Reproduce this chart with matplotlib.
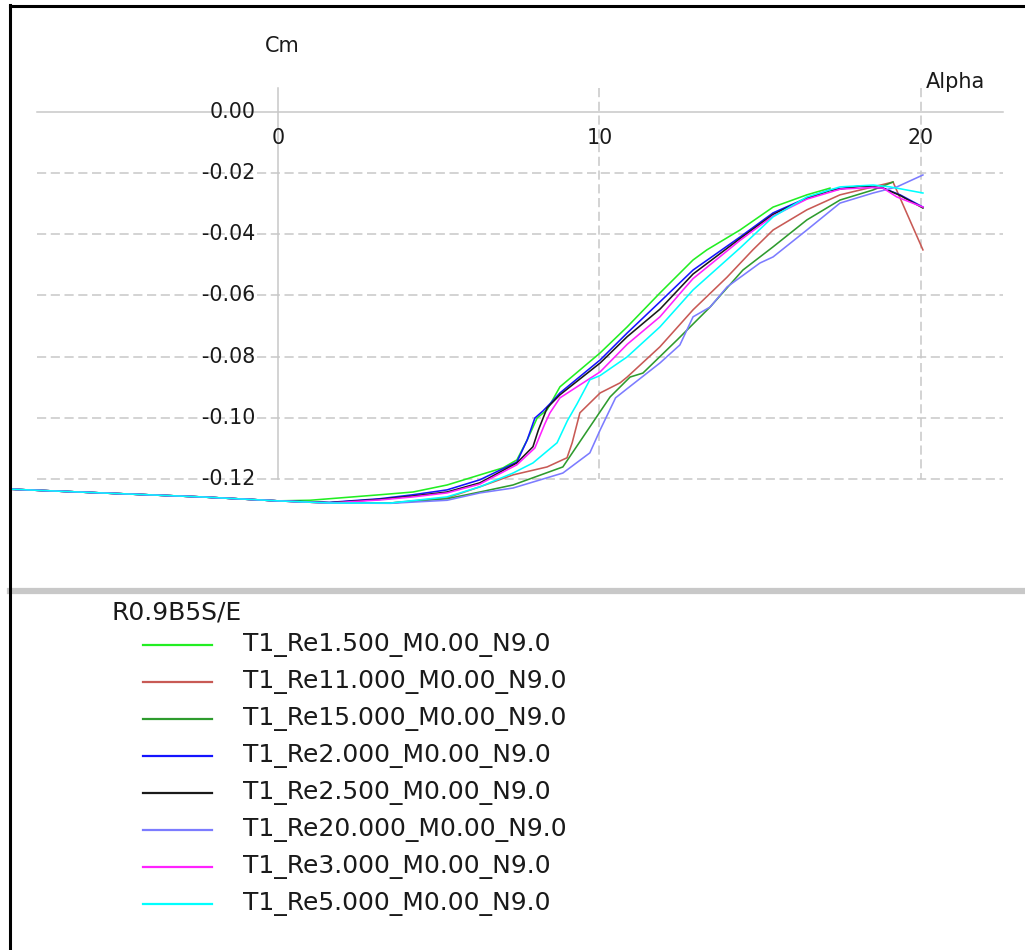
import matplotlib
matplotlib.use("Agg")
import matplotlib.pyplot as plt
from matplotlib.lines import Line2D

plt.rcParams['font.family'] = ['DejaVu Sans']

# polar data: alpha (deg) / Cm
re1500_alpha = [-8.5, -5.5, -2.4, 0.0, 1.0, 3.17, 4.2, 5.26, 6.28, 7.0, 7.43, 7.75, 8.06, 8.37, 8.77,
                10.02, 10.86, 11.88, 12.91, 13.34, 14.37, 15.4, 16.45, 17.17]
re1500_cm = [-0.1233, -0.1246, -0.1259, -0.1272, -0.1270, -0.1252, -0.1243, -0.1220, -0.1187, -0.1164,
             -0.1138, -0.1073, -0.1001, -0.0974, -0.0899, -0.0788, -0.0703, -0.0592, -0.0484, -0.0451,
             -0.0386, -0.0311, -0.0271, -0.0249]

re11000_alpha = [-8.5, -5.5, -2.4, 0.0, 1.6, 3.5, 5.26, 6.28, 7.31, 8.37, 8.99, 9.15, 9.39, 10.02, 10.64,
                 10.86, 11.88, 12.91, 13.97, 14.77, 15.4, 16.45, 17.48, 18.51, 19.13, 20.06]
re11000_cm = [-0.1233, -0.1246, -0.1259, -0.1272, -0.1279, -0.1279, -0.1262, -0.1226, -0.1187, -0.1161,
              -0.1131, -0.1082, -0.0984, -0.0919, -0.0886, -0.0867, -0.0768, -0.0647, -0.0540, -0.0451,
              -0.0386, -0.0320, -0.0271, -0.0245, -0.0229, -0.0451]

re15000_alpha = [-8.5, -5.5, -2.4, 0.0, 1.6, 3.5, 5.26, 6.28, 7.31, 8.86, 9.7, 10.33, 10.95, 11.35, 12.41,
                 13.44, 14.46, 15.4, 16.45, 17.48, 18.51, 19.13]
re15000_cm = [-0.1233, -0.1246, -0.1259, -0.1272, -0.1279, -0.1279, -0.1265, -0.1243, -0.1220, -0.1161,
              -0.1030, -0.0932, -0.0867, -0.0854, -0.0746, -0.0638, -0.0517, -0.0441, -0.0353, -0.0288,
              -0.0255, -0.0229]

re2000_alpha = [-8.5, -5.5, -2.4, 0.0, 1.6, 3.17, 4.2, 5.26, 6.28, 7.43, 7.75, 7.99, 8.24, 8.5, 8.77,
                10.02, 10.86, 11.88, 12.91, 14.37, 15.4, 16.45, 17.17, 18.1, 18.82, 19.35, 20.06]
re2000_cm = [-0.1233, -0.1246, -0.1259, -0.1272, -0.1277, -0.1265, -0.1252, -0.1236, -0.1203, -0.1145,
             -0.1073, -0.1001, -0.0978, -0.0950, -0.0919, -0.0811, -0.0723, -0.0621, -0.0517, -0.0409,
             -0.0330, -0.0281, -0.0255, -0.0242, -0.0249, -0.0271, -0.0311]

re2500_alpha = [-8.5, -5.5, -2.4, 0.0, 1.6, 3.17, 4.2, 5.26, 6.28, 7.43, 7.93, 8.1, 8.37, 8.77, 10.02,
                10.86, 11.88, 12.91, 14.37, 15.4, 16.45, 17.17, 18.1, 18.82, 19.35, 20.06]
re2500_cm = [-0.1233, -0.1246, -0.1259, -0.1272, -0.1278, -0.1267, -0.1256, -0.1243, -0.1213, -0.1148,
             -0.1095, -0.1040, -0.0968, -0.0925, -0.0821, -0.0735, -0.0645, -0.0530, -0.0414, -0.0335,
             -0.0283, -0.0257, -0.0243, -0.0249, -0.0273, -0.0314]

re20000_alpha = [-8.5, -5.5, -2.4, 0.0, 1.6, 3.5, 5.26, 6.28, 7.31, 8.86, 9.7, 10.02, 10.5, 10.86, 11.88,
                 12.5, 12.91, 13.44, 13.97, 14.99, 15.4, 16.45, 17.48, 18.51, 19.25, 20.06]
re20000_cm = [-0.1233, -0.1246, -0.1259, -0.1272, -0.1279, -0.1280, -0.1270, -0.1246, -0.1230, -0.1181,
              -0.1115, -0.1040, -0.0935, -0.0905, -0.0821, -0.0762, -0.0670, -0.0638, -0.0572, -0.0494,
              -0.0474, -0.0386, -0.0298, -0.0265, -0.0245, -0.0206]

re3000_alpha = [-8.5, -5.5, -2.4, 0.0, 1.6, 3.17, 4.2, 5.26, 6.28, 7.43, 7.99, 8.3, 8.46, 8.77, 10.02,
                10.86, 11.88, 12.6, 12.91, 14.37, 15.4, 16.45, 17.5, 18.5, 18.82, 19.25, 20.06]
re3000_cm = [-0.1233, -0.1246, -0.1259, -0.1272, -0.1279, -0.1269, -0.1259, -0.1246, -0.1217, -0.1154,
             -0.1099, -0.1020, -0.0984, -0.0935, -0.0850, -0.0760, -0.0670, -0.0582, -0.0545, -0.0420,
             -0.0340, -0.0285, -0.0252, -0.0247, -0.0249, -0.0278, -0.0311]

re5000_alpha = [-8.5, -5.5, -2.4, 0.0, 1.6, 3.5, 5.26, 6.28, 7.31, 7.93, 8.68, 9.0, 9.3, 9.7, 10.02,
                10.86, 11.88, 12.91, 14.37, 15.4, 16.45, 17.48, 18.51, 19.04, 20.06]
re5000_cm = [-0.1233, -0.1246, -0.1259, -0.1272, -0.1279, -0.1279, -0.1259, -0.1226, -0.1181, -0.1148,
             -0.1082, -0.1010, -0.0955, -0.0876, -0.0862, -0.0801, -0.0703, -0.0582, -0.0445, -0.0343,
             -0.0278, -0.0245, -0.0239, -0.0245, -0.0265]

foil_name = "R0.9B5S/E"
labels = ["T1_Re1.500_M0.00_N9.0", "T1_Re11.000_M0.00_N9.0", "T1_Re15.000_M0.00_N9.0",
          "T1_Re2.000_M0.00_N9.0", "T1_Re2.500_M0.00_N9.0", "T1_Re20.000_M0.00_N9.0",
          "T1_Re3.000_M0.00_N9.0", "T1_Re5.000_M0.00_N9.0"]
colors = ['#22ee22', '#c85a55', '#2e9b2e', '#1414ff', '#1a1a1a', '#7c7cff', '#ff22ff', '#00ffff']
series = [(re1500_alpha, re1500_cm), (re11000_alpha, re11000_cm), (re15000_alpha, re15000_cm),
          (re2000_alpha, re2000_cm), (re2500_alpha, re2500_cm), (re20000_alpha, re20000_cm),
          (re3000_alpha, re3000_cm), (re5000_alpha, re5000_cm)]

y_ticks = [0.00, -0.02, -0.04, -0.06, -0.08, -0.10, -0.12]
x_ticks = [0, 10, 20]

W, H = 1025, 950
fig = plt.figure(figsize=(W / 100, H / 100), dpi=100)
fig.patch.set_facecolor('white')

# plot area: from left border to the grey separator
ax = fig.add_axes([10 / W, (H - 588) / H, (W - 10) / W, 583 / H])
ax.set_xlim(-8.336, 23.235)
ax.set_ylim(-0.1557, 0.0350)
ax.axis('off')

grid_c = '#c8c8c8'
gx0, gx1 = -7.5, 22.55
gy_top = 0.0078
for yv in y_ticks:
    if yv == 0:
        ax.plot([gx0, gx1], [yv, yv], color=grid_c, lw=1.1, zorder=1)
    else:
        ax.plot([gx0, gx1], [yv, yv], color=grid_c, lw=1.1, ls=(0, (6, 3)), zorder=1)
    ax.text(-0.7, yv, "%.2f" % yv, ha='right', va='center', fontsize=14.8, color='#1a1a1a')
for xv in x_ticks:
    if xv == 0:
        ax.plot([xv, xv], [gy_top, -0.12], color=grid_c, lw=1.1, zorder=1)
    else:
        ax.plot([xv, xv], [gy_top, -0.12], color=grid_c, lw=1.1, ls=(0, (6, 3)), zorder=1)
    ax.text(xv, -0.0085, str(xv), ha='center', va='center', fontsize=14.8, color='#1a1a1a')

ax.text(0.12, 0.0216, "Cm", ha='center', va='center', fontsize=15, color='#1a1a1a')
ax.text(21.06, 0.0098, "Alpha", ha='center', va='center', fontsize=15, color='#1a1a1a')

for (a, c), col in zip(series, colors):
    ax.plot(a, c, color=col, lw=1.15, zorder=3)

# separator and frame
fig.add_artist(Line2D([10 / W, 1], [1 - 591 / H, 1 - 591 / H], color=grid_c, lw=4.5))
fig.add_artist(Line2D([10 / W, 10 / W], [0, 1 - 5 / H], color='black', lw=2.2))
fig.add_artist(Line2D([10 / W, 1], [1 - 6 / H, 1 - 6 / H], color='black', lw=2.2))

# legend block
fig.text(112 / W, 1 - 612 / H, foil_name, ha='left', va='center', fontsize=18, color='#1a1a1a')
for i, (lab, col) in enumerate(zip(labels, colors)):
    yy = 1 - (645 + 37 * i) / H
    fig.add_artist(Line2D([143 / W, 212 / W], [yy, yy], color=col, lw=1.6))
    fig.text(243 / W, yy, lab, ha='left', va='center', fontsize=18, color='#1a1a1a')

fig.savefig("out.png", dpi=100, facecolor='white')
